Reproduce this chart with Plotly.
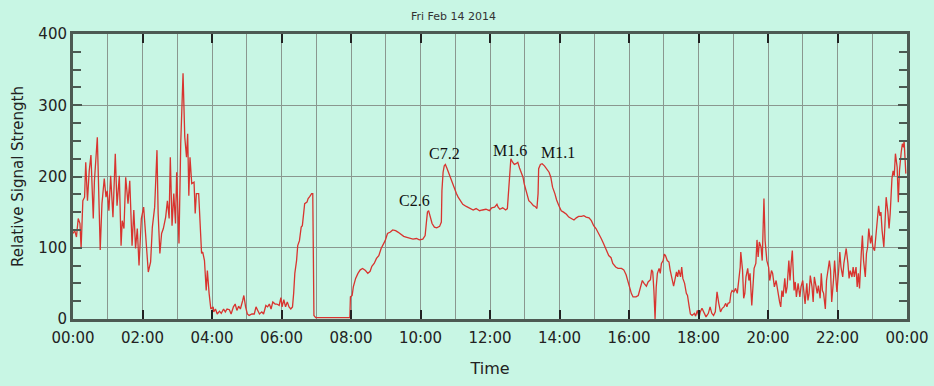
import pandas as pd
import plotly.graph_objects as go

# ---- data (minutes after midnight, relative signal strength) ----
min_a = [0,3,6,9,12,14,17,20,22,25,28,31,35,37,42,44,47,50,54,57,
         59,62,65,69,73,76,80,83,85,88,91,95,98,102,105,108,111,114,118,122,
         126,130,134,137,141,145,147,150,153,156,160,163,166,168,171,174,177,179,183,186,
         190,193,196,198,200,202,205,209,211,213,217,219,222,224,227,230,232,235,238,242]
val_a = [120,124,115,141,134,99,166,171,220,166,208,230,141,194,255,199,97,162,197,171,
         180,152,201,143,232,159,201,103,138,127,199,162,194,103,153,99,127,75,141,157,
         115,66,80,129,157,237,148,92,120,127,143,166,141,227,131,176,134,206,106,246,
         345,255,227,260,173,227,190,192,148,176,176,143,92,94,82,40,68,36,14,17]

min_b = [243,246,249,253,256,260,263,266,270,273,277,280,283,286,289,293,295,298,301,304,
         309,313,316,319,322,326,329,333,336,339,342,345,349,352,356,359,361,364,367,370,
         373,376,379,381,383,386,388,391,394,396,398,400,404,406,409,412,414,415,416,419,
         450,478]
val_b = [10,14,7,11,8,14,10,14,13,7,17,21,12,18,14,26,33,17,7,5,
         7,7,17,12,7,10,7,19,17,21,14,24,21,21,19,30,17,27,17,24,
         17,14,17,36,64,82,103,110,129,131,152,162,164,169,172,176,176,87,5,2,
         2,2]

min_c = [479,482,484,488,492,496,500,505,509,513,516,520,524,528,532,536,539,543,548,552,
         557,561,566,571,575,581,587,593,598,604,608,610,612,614,617,620,624,628,633,636,
         637,639,641,643,646,649,653,658,662,665,669,673,679,685,691,696,702]
val_c = [31,33,45,57,64,69,71,68,64,67,74,78,85,89,99,106,110,120,122,125,
         124,122,119,116,115,114,112,113,111,112,117,134,150,152,141,134,129,128,130,136,
         180,206,215,217,211,204,194,183,176,171,166,161,158,156,153,155,152]

min_d = [707,713,719,723,728,732,734,737,742,747,750,752,755,756,759,762,765,768,771,774,
         777,779,783,787,791,795,798,801,803,804,807,810,814,818,822,825,828,832,835,839,
         843,847,852,856,861,865,869,873,878,882,886,891,895,899,903,908,912,916,921,925,
         929,932,937,941,947,951]
val_d = [153,154,152,156,157,161,157,154,156,153,155,180,211,225,220,217,218,220,212,206,
         199,190,176,166,163,159,158,155,176,211,217,218,215,211,206,199,185,176,167,159,
         152,150,147,143,141,139,142,144,144,145,143,142,138,131,127,120,113,106,96,89,
         86,78,73,71,71,69]

min_e = [955,958,961,964,967,972,976,980,983,986,990,993,997,999,1001,1003,1005,1007,1009,1012,
         1014,1016,1019,1021,1023,1026,1029,1031,1035,1037,1039,1042,1044,1046,1049,1051,1053,1056,1059,1061,
         1064,1066,1069,1073,1075,1078,1081,1083,1086,1090,1093,1097,1100,1103,1106,1109,1112,1115,1118,1121,
         1124,1127,1129,1131,1134,1136,1138,1141,1144,1147,1150,1152,1153,1156,1158,1160,1162,1165,1167,1169,
         1172,1174,1176,1179,1181,1183,1185,1188,1190,1193]
val_e = [62,52,45,36,31,31,33,45,54,50,46,52,55,69,66,40,0,45,64,71,
         64,78,82,91,89,82,80,69,54,46,54,66,59,69,59,73,57,50,36,33,
         17,7,5,8,4,12,2,10,15,8,3,8,17,8,5,10,38,22,10,15,
         17,22,17,22,23,36,40,38,43,36,57,73,94,69,29,36,59,71,54,64,
         19,54,71,78,111,87,108,101,82,169]

min_f = [1195,1198,1201,1203,1206,1208,1211,1214,1217,1220,1222,1224,1226,1229,1231,1233,1236,1238,1240,1242,
         1245,1247,1249,1252,1255,1257,1260,1262,1264,1267,1269,1271,1273,1276,1278,1280,1283,1285,1287,1290,
         1292,1294,1296,1299,1301,1303,1306,1308,1310,1313,1315,1317,1319,1322,1324,1326,1329,1331,1333,1335,
         1338,1340,1342,1345,1347,1349,1352,1354,1356,1358,1361,1363,1365,1368,1370,1372,1374,1377,1379,1381,
         1384,1386,1388,1391,1393,1395,1397,1400,1402,1404,1407,1409,1411,1414,1416,1418,1420,1423,1425,1427,
         1430,1432,1434,1435,1438]
val_f = [110,82,73,54,68,64,45,54,36,24,17,40,31,57,36,45,82,54,78,96,
         40,52,31,50,31,45,54,36,21,50,26,36,61,45,24,59,43,36,47,29,
         64,40,36,14,54,64,82,68,24,54,82,59,38,68,94,73,59,78,92,99,
         78,57,68,59,73,59,73,45,64,43,92,117,82,59,92,101,127,106,117,101,
         96,115,138,159,145,150,124,101,134,171,150,127,148,197,208,201,232,213,164,208,
         234,246,241,250,204]

flare_labels = ["C2.6", "C7.2", "M1.6", "M1.1"]
flare_minutes = [590, 642, 755, 837]
flare_label_values = [167, 232, 237, 234]

title_text = "Fri Feb 14 2014"
day = pd.Timestamp("2014-02-14")

minutes = min_a + min_b + min_c + min_d + min_e + min_f
values = val_a + val_b + val_c + val_d + val_e + val_f
assert len(minutes) == len(values)
times = [day + pd.Timedelta(minutes=m) for m in minutes]

BG = "#c8f6e4"
AXIS = "#4d5a53"
GRID = "#8a978f"

fig = go.Figure()
fig.add_trace(go.Scatter(x=times, y=values, mode="lines",
                         line=dict(color="#d8342f", width=1.3),
                         showlegend=False))

for lab, m, v in zip(flare_labels, flare_minutes, flare_label_values):
    fig.add_annotation(x=day + pd.Timedelta(minutes=m), y=v, text=lab,
                       showarrow=False,
                       font=dict(family="Liberation Serif", size=16, color="#111"))

fig.add_annotation(xref="paper", yref="paper", x=0.456, y=1.06, text=title_text,
                   showarrow=False, xanchor="center", yanchor="middle",
                   font=dict(family="DejaVu Sans", size=11, color="#333"))

fig.update_layout(
    width=934, height=386,
    margin=dict(l=73, r=27, t=34, b=67),
    paper_bgcolor=BG, plot_bgcolor=BG,
    font=dict(family="DejaVu Sans", size=15, color="#222"),
)
fig.update_xaxes(
    type="date", automargin=False,
    range=[day, day + pd.Timedelta(hours=24)],
    dtick=2 * 3600 * 1000, tick0=day, tickformat="%H:%M",
    ticks="inside", ticklen=9, tickwidth=2, tickcolor="#222",
    ticklabelstandoff=3,
    showgrid=True, gridcolor=GRID, gridwidth=1.3,
    minor=dict(dtick=3600 * 1000, showgrid=True, gridcolor=GRID, gridwidth=1.3),
    showline=True, linecolor=AXIS, linewidth=3, mirror="ticks",
    title=dict(text="Time", font=dict(size=16), standoff=17),
    zeroline=False,
)
fig.update_yaxes(
    automargin=False,
    range=[0, 400], dtick=100,
    ticks="inside", ticklen=9, tickwidth=2, tickcolor=AXIS,
    minor=dict(dtick=25, ticks="inside", ticklen=8, tickwidth=2, tickcolor=AXIS, showgrid=False),
    showgrid=True, gridcolor=GRID, gridwidth=1.3,
    showline=True, linecolor=AXIS, linewidth=3, mirror="ticks",
    title=dict(text="Relative Signal Strength", font=dict(size=15), standoff=12),
    zeroline=False,
)

fig.write_html("out.html",
               config={"displayModeBar": False},
               post_script="document.body.style.margin='0';document.body.style.background='" + BG + "';")
